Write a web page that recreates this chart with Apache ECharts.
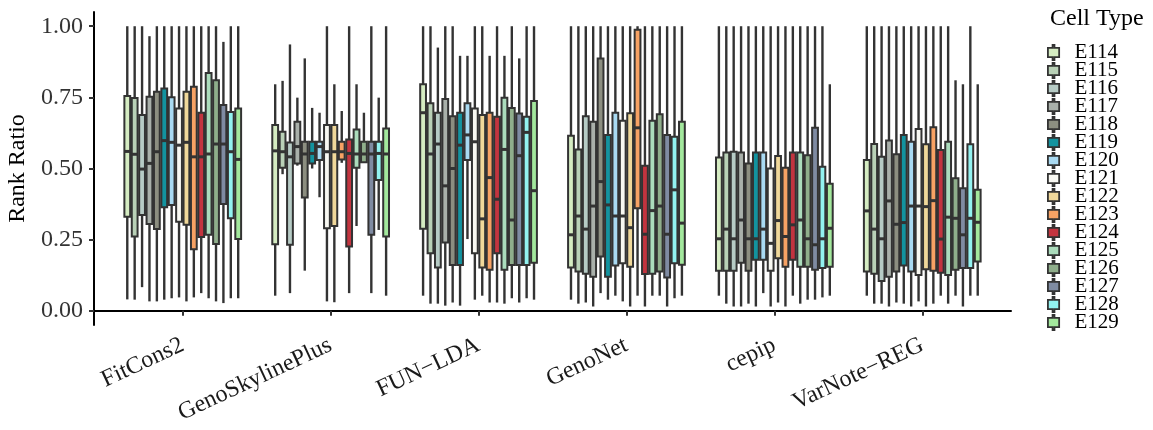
<!DOCTYPE html>
<html>
<head>
<meta charset="utf-8">
<script src="https://cdn.jsdelivr.net/npm/echarts@6/dist/echarts.min.js"></script>
<style>html,body{margin:0;padding:0;background:#fff;}#c{width:1153px;height:430px;}</style>
</head>
<body>
<div id="c"></div>
<script>
// Categories (methods) and cell types
const methods = ['FitCons2', 'GenoSkylinePlus', 'FUN\u2212LDA', 'GenoNet', 'cepip', 'VarNote\u2212REG'];
const cellTypes = ['E114','E115','E116','E117','E118','E119','E120','E121','E122','E123','E124','E125','E126','E127','E128','E129'];
const cellColors = ['#d5ecc2','#b9d1b7','#b6cbc5','#a9b0aa','#8c8e80','#13939f','#a9daf2','#f8f8f2',
                    '#f0d89a','#f7a264','#c3343f','#abdcbc','#8fae8b','#7f8ba2','#92f2f0','#a3e89d'];
const yTicks = [0, 0.25, 0.5, 0.75, 1.0];

// Each array: per method [min, q1, median, q3, max]
const E114 = [[0.04,0.33,0.56,0.755,1.0],[0.053,0.234,0.562,0.653,0.796],[0.053,0.288,0.696,0.796,1.0],[0.039,0.152,0.267,0.615,1.0],[0.053,0.141,0.253,0.539,1.0],[0.053,0.138,0.351,0.53,1.0]];
const E115 = [[0.039,0.261,0.55,0.748,1.0],[0.48,0.503,0.559,0.629,0.808],[0.025,0.202,0.551,0.729,1.0],[0.025,0.138,0.333,0.567,1.0],[0.025,0.141,0.287,0.556,1.0],[0.025,0.13,0.287,0.586,1.0]];
const E116 = [[0.083,0.337,0.498,0.688,1.0],[0.062,0.232,0.541,0.591,0.936],[0.025,0.152,0.586,0.696,0.925],[0.029,0.13,0.287,0.684,1.0],[0.015,0.141,0.253,0.559,1.0],[0.025,0.105,0.253,0.541,1.0]];
const E117 = [[0.033,0.305,0.518,0.752,0.965],[0.51,0.518,0.577,0.664,0.749],[0.018,0.24,0.439,0.744,1.0],[0.015,0.12,0.368,0.664,1.0],[0.015,0.169,0.319,0.556,1.0],[0.015,0.12,0.386,0.598,1.0]];
const E118 = [[0.033,0.287,0.559,0.77,1.0],[0.141,0.398,0.551,0.594,0.887],[0.029,0.161,0.5,0.684,1.0],[0.062,0.191,0.454,0.887,1.0],[0.025,0.141,0.253,0.518,1.0],[0.029,0.138,0.304,0.55,1.0]];
const E119 = [[0.039,0.364,0.598,0.781,1.0],[0.5,0.518,0.553,0.594,0.713],[0.018,0.161,0.582,0.696,0.896],[0.039,0.12,0.372,0.618,1.0],[0.015,0.179,0.253,0.556,1.0],[0.025,0.159,0.31,0.618,1.0]];
const E120 = [[0.044,0.372,0.592,0.75,1.0],[0.399,0.53,0.577,0.594,0.696],[0.252,0.53,0.618,0.729,0.896],[0.053,0.159,0.333,0.696,1.0],[0.062,0.179,0.287,0.556,1.0],[0.015,0.138,0.368,0.594,1.0]];
const E121 = [[0.047,0.313,0.582,0.711,1.0],[0.033,0.29,0.559,0.653,1.0],[0.039,0.202,0.594,0.711,1.0],[0.033,0.167,0.333,0.668,1.0],[0.015,0.141,0.237,0.5,1.0],[0.033,0.126,0.368,0.639,1.0]];
const E122 = [[0.033,0.302,0.592,0.77,1.0],[0.03,0.298,0.559,0.653,0.796],[0.053,0.152,0.323,0.688,1.0],[0.015,0.155,0.292,0.694,1.0],[0.029,0.185,0.317,0.544,1.0],[0.015,0.146,0.366,0.585,1.0]];
const E123 = [[0.047,0.216,0.541,0.787,1.0],[0.52,0.532,0.559,0.594,0.702],[0.029,0.144,0.468,0.696,0.896],[0.053,0.36,0.643,0.988,1.0],[0.015,0.155,0.261,0.503,1.0],[0.025,0.141,0.387,0.645,1.0]];
const E124 = [[0.062,0.259,0.541,0.696,1.0],[0.062,0.226,0.553,0.602,1.0],[0.029,0.202,0.392,0.682,1.0],[0.015,0.129,0.269,0.51,1.0],[0.053,0.179,0.302,0.556,1.0],[0.053,0.134,0.252,0.565,1.0]];
const E125 = [[0.044,0.267,0.551,0.836,1.0],[0.298,0.503,0.551,0.637,0.796],[0.025,0.144,0.567,0.749,0.896],[0.053,0.13,0.352,0.668,1.0],[0.025,0.155,0.319,0.556,1.0],[0.025,0.126,0.329,0.594,1.0]];
const E126 = [[0.033,0.235,0.586,0.81,1.0],[0.52,0.522,0.551,0.594,0.696],[0.044,0.161,0.319,0.713,1.0],[0.053,0.138,0.368,0.691,1.0],[0.039,0.155,0.253,0.547,1.0],[0.053,0.144,0.325,0.466,0.81]];
const E127 = [[0.027,0.375,0.586,0.723,0.945],[0.062,0.267,0.551,0.594,1.0],[0.029,0.161,0.545,0.693,0.887],[0.015,0.117,0.269,0.618,1.0],[0.039,0.144,0.232,0.643,1.0],[0.015,0.15,0.267,0.431,0.796]];
const E128 = [[0.044,0.325,0.559,0.699,1.0],[0.284,0.46,0.553,0.594,0.749],[0.044,0.161,0.627,0.682,1.0],[0.044,0.167,0.425,0.612,1.0],[0.047,0.15,0.253,0.506,1.0],[0.053,0.15,0.325,0.585,1.0]];
const E129 = [[0.044,0.252,0.532,0.711,1.0],[0.053,0.261,0.551,0.641,1.0],[0.039,0.169,0.422,0.737,1.0],[0.053,0.162,0.308,0.664,1.0],[0.053,0.155,0.29,0.446,0.796],[0.053,0.173,0.311,0.425,0.796]];

const cellData = [E114,E115,E116,E117,E118,E119,E120,E121,E122,E123,E124,E125,E126,E127,E128,E129];

const FONT = '"Liberation Serif", "Times New Roman", serif';
const chart = echarts.init(document.getElementById('c'));

const nSeries = cellTypes.length;
function renderBox(params, api) {
  const cat = api.value(0);
  const band = api.size([1, 0])[0];
  const w = band * 0.8 / nSeries;
  const cx = api.coord([cat, 0])[0] + (params.seriesIndex - (nSeries - 1) / 2) * w;
  const yMin = api.coord([cat, api.value(1)])[1];
  const yQ1 = api.coord([cat, api.value(2)])[1];
  const yMed = api.coord([cat, api.value(3)])[1];
  const yQ3 = api.coord([cat, api.value(4)])[1];
  const yMax = api.coord([cat, api.value(5)])[1];
  const color = cellColors[params.seriesIndex];
  const dark = '#333333';
  return {
    type: 'group',
    children: [
      {type: 'line', shape: {x1: cx, y1: yMax, x2: cx, y2: yQ3}, style: {stroke: dark, lineWidth: 2.4}},
      {type: 'line', shape: {x1: cx, y1: yQ1, x2: cx, y2: yMin}, style: {stroke: dark, lineWidth: 2.4}},
      {type: 'rect', shape: {x: cx - w / 2 + 0.8, y: yQ3, width: w - 1.6, height: yQ1 - yQ3},
       style: {fill: color, stroke: dark, lineWidth: 2}},
      {type: 'line', shape: {x1: cx - w / 2 + 0.8, y1: yMed, x2: cx + w / 2 - 0.8, y2: yMed},
       style: {stroke: dark, lineWidth: 3}}
    ]
  };
}

const series = cellTypes.map(function (name, i) {
  return {
    name: name,
    type: 'custom',
    xAxisIndex: 1,
    yAxisIndex: 1,
    renderItem: renderBox,
    itemStyle: {color: cellColors[i]},
    encode: {x: 0, y: [1, 2, 3, 4, 5]},
    data: cellData[i].map(function (s, j) { return [j].concat(s); })
  };
});

const option = {
  animation: false,
  backgroundColor: '#ffffff',
  textStyle: {fontFamily: FONT},
  title: {
    text: 'Cell Type', left: 1050, top: 7, padding: 0,
    textStyle: {fontFamily: FONT, fontSize: 24, fontWeight: 'normal', color: '#000'}
  },
  legend: {
    orient: 'vertical', left: 1047, top: 42, padding: 0,
    itemWidth: 12, itemHeight: 15, itemGap: -3,
    icon: 'path://M5,0h2v3h5v10h-5v3h-2v-3h-5v-10h5z',
    itemStyle: {borderColor: '#333333', borderWidth: 1.8},
    textStyle: {fontFamily: FONT, fontSize: 21, color: '#000', padding: [0, 0, 0, 10]},
    data: cellTypes
  },
  grid: [
    {left: 94, top: 12, width: 917, height: 313, outerBoundsMode: 'none', containLabel: false},
    {left: 94 + 917 * 0.1 / 6.2, top: 12, width: 917 * 6 / 6.2, height: 313, outerBoundsMode: 'none', containLabel: false}
  ],
  xAxis: [
    {
      gridIndex: 0, type: 'value', min: 0, max: 1,
      axisLine: {show: true, lineStyle: {color: '#000', width: 2}},
      axisTick: {show: false}, axisLabel: {show: false}, splitLine: {show: false}
    },
    {
      gridIndex: 1, type: 'category', data: methods, boundaryGap: true,
      axisLine: {show: false},
      axisTick: {show: true, alignWithLabel: true, length: 5, lineStyle: {color: '#333', width: 2}},
      axisLabel: {rotate: 25, fontFamily: FONT, fontSize: 24, color: '#1a1a1a', margin: 19, interval: 0},
      splitLine: {show: false}
    }
  ],
  yAxis: [
    {
      gridIndex: 0, type: 'value', min: -0.05, max: 1.05,
      name: 'Rank Ratio', nameLocation: 'middle', nameGap: 62, nameRotate: 90,
      nameTextStyle: {fontFamily: FONT, fontSize: 24, color: '#000'},
      axisLine: {show: true, lineStyle: {color: '#000', width: 2}},
      axisTick: {show: true, length: 5, customValues: yTicks, lineStyle: {color: '#333', width: 2}},
      axisLabel: {customValues: yTicks, fontFamily: FONT, fontSize: 24, color: '#333', margin: 11,
                  formatter: function (v) { return v.toFixed(2); }},
      splitLine: {show: false}
    },
    {
      gridIndex: 1, type: 'value', min: -0.05, max: 1.05,
      show: false, splitLine: {show: false}
    }
  ],
  series: series
};
chart.setOption(option);
</script>
</body>
</html>
